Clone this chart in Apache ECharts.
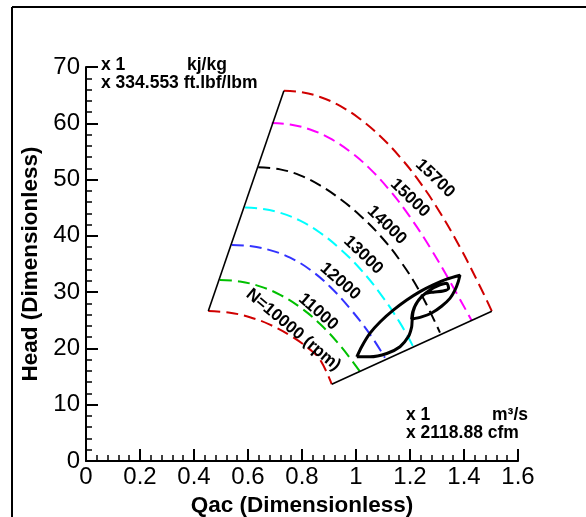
<!DOCTYPE html>
<html><head><meta charset="utf-8">
<script src="https://cdn.jsdelivr.net/npm/echarts@6/dist/echarts.min.js"></script>
<style>html,body{margin:0;padding:0;background:#fff}#c{width:586px;height:517px}</style>
</head><body><div id="c"></div>
<script>
// ---- data ----
const xMin = 0, xMax = 1.6, xStep = 0.2;
const yMin = 0, yMax = 70, yStep = 10;
const speedNames = ['N=10000 (rpm)', '11000', '12000', '13000', '14000', '15000', '15700'];
const n10000 = [[0.453,26.64],[0.533,26.35],[0.607,25.55],[0.681,24.22],[0.756,22.31],[0.830,19.79],[0.867,18.01],[0.910,13.65]];
const n11000 = [[0.496,32.15],[0.570,31.89],[0.644,31.03],[0.719,29.52],[0.793,27.31],[0.867,24.34],[0.941,20.52],[1.015,15.87]];
const n12000 = [[0.540,38.38],[0.607,38.19],[0.681,37.47],[0.756,36.12],[0.830,33.99],[0.904,30.96],[0.978,27.08],[1.052,22.49],[1.107,18.36]];
const n13000 = [[0.589,45.02],[0.644,44.86],[0.719,44.11],[0.793,42.69],[0.867,40.55],[0.941,37.70],[1.015,34.15],[1.089,29.79],[1.163,24.54],[1.212,20.30]];
const n14000 = [[0.638,52.20],[0.719,51.81],[0.793,50.75],[0.867,48.97],[0.941,46.57],[1.015,43.63],[1.089,40.07],[1.163,35.62],[1.237,30.02],[1.311,22.81]];
const n15000 = [[0.688,60.04],[0.756,59.79],[0.830,58.90],[0.904,57.30],[0.978,54.98],[1.052,51.90],[1.126,48.02],[1.200,43.36],[1.274,37.95],[1.348,31.90],[1.429,24.90]];
const n15700 = [[0.733,65.78],[0.793,65.57],[0.867,64.68],[0.941,63.08],[1.015,60.77],[1.089,57.74],[1.163,54.00],[1.237,49.50],[1.311,44.16],[1.385,37.99],[1.459,31.05],[1.503,26.62]];
const surgeLine = [[0.453,26.64],[0.733,65.78]];
const chokeLine = [[0.910,13.65],[1.503,26.62]];
const opLoop = [[1.003,18.5],[1.021,20.3],[1.052,22.7],[1.089,24.7],[1.138,26.8],[1.188,28.6],[1.237,30.1],[1.286,31.3],[1.336,32.3],[1.385,33.0],[1.379,31.9],[1.367,30.4],[1.348,28.9],[1.317,27.5],[1.280,26.3],[1.243,25.6],[1.206,25.2],[1.210,26.5],[1.222,27.9],[1.243,29.2],[1.274,30.4],[1.311,31.3],[1.336,31.6],[1.343,30.7],[1.323,30.2],[1.286,30.0],[1.256,29.7],[1.228,28.3],[1.212,26.6],[1.208,25.0],[1.206,23.8],[1.194,22.1],[1.163,20.3],[1.114,19.1],[1.052,18.5],[1.003,18.5]];
// label anchor positions (data coords) and angles (deg)
const labelAt = [[0.768,23.3],[0.860,26.5],[0.941,31.9],[1.027,36.6],[1.114,41.9],[1.200,46.7],[1.293,50.2]];
const labelAngle = [40, 41, 41, 44, 44, 44, 44];

// ---- chart ----
const speedData = [n10000, n11000, n12000, n13000, n14000, n15000, n15700];
const speedColors = ['#d00000', '#00c000', '#3333ff', '#00ffff', '#000000', '#ff00ff', '#d00000'];
const FF = '"Liberation Sans", Arial, Helvetica, sans-serif';

const chart = echarts.init(document.getElementById('c'), null, {renderer: 'canvas'});
const series = speedData.map((d, i) => ({
  type: 'line', data: d, showSymbol: false, smooth: 0.4, silent: true,
  lineStyle: {color: speedColors[i], width: 2, type: [12, 6]}, z: 2
}));
series.push({type: 'line', data: surgeLine, showSymbol: false, silent: true, lineStyle: {color: '#000', width: 1.6}, z: 3});
series.push({type: 'line', data: chokeLine, showSymbol: false, silent: true, lineStyle: {color: '#000', width: 1.6}, z: 3});
series.push({type: 'line', data: opLoop, showSymbol: false, smooth: 0.25, silent: true, lineStyle: {color: '#000', width: 3}, z: 4});

const axisCommon = {
  type: 'value',
  axisLine: {show: true, onZero: false, lineStyle: {color: '#000', width: 2}},
  axisTick: {show: true, inside: true, length: 12, lineStyle: {color: '#000', width: 2}},
  minorTick: {show: true, splitNumber: 5, length: 6, lineStyle: {color: '#000', width: 1.5}},
  splitLine: {show: false},
  axisLabel: {color: '#000', fontSize: 24, fontFamily: FF, margin: 6},
  nameTextStyle: {color: '#000', fontSize: 22.5, fontWeight: 'bold', fontFamily: FF}
};

chart.setOption({
  animation: false,
  backgroundColor: '#fff',
  grid: {left: 86, right: 68, top: 67, bottom: 56, containLabel: false, outerBoundsMode: 'none'},
  xAxis: Object.assign({}, axisCommon, {min: xMin, max: xMax, interval: xStep,
    name: 'Qac (Dimensionless)', nameLocation: 'middle', nameGap: 33,
    axisLabel: Object.assign({}, axisCommon.axisLabel, {margin: 4})}),
  yAxis: Object.assign({}, axisCommon, {min: yMin, max: yMax, interval: yStep,
    name: 'Head (Dimensionless)', nameLocation: 'middle', nameGap: 39}),
  series: series
});

const g = [];
// frame lines
g.push({type: 'line', shape: {x1: 12, y1: 7, x2: 586, y2: 7}, style: {stroke: '#000', lineWidth: 2}, silent: true});
g.push({type: 'line', shape: {x1: 12, y1: 7, x2: 12, y2: 517}, style: {stroke: '#000', lineWidth: 2}, silent: true});
// speed labels
labelAt.forEach((p, i) => {
  const px = chart.convertToPixel({gridIndex: 0}, p);
  g.push({type: 'text', x: px[0], y: px[1], rotation: -labelAngle[i] * Math.PI / 180, silent: true, z: 10,
    style: {text: speedNames[i], fill: '#000', font: 'bold 17px ' + FF, align: 'center', verticalAlign: 'middle'}});
});
// unit annotations
const unitFont = 'bold 17.5px ' + FF;
g.push({type: 'text', x: 101, y: 65, style: {text: 'x 1', font: unitFont, fill: '#000', verticalAlign: 'middle'}});
g.push({type: 'text', x: 187, y: 65, style: {text: 'kj/kg', font: unitFont, fill: '#000', verticalAlign: 'middle'}});
g.push({type: 'text', x: 101, y: 83, style: {text: 'x 334.553 ft.lbf/lbm', font: unitFont, fill: '#000', verticalAlign: 'middle'}});
g.push({type: 'text', x: 406, y: 415, style: {text: 'x 1', font: unitFont, fill: '#000', verticalAlign: 'middle'}});
g.push({type: 'text', x: 492, y: 415, style: {text: 'm³/s', font: unitFont, fill: '#000', verticalAlign: 'middle'}});
g.push({type: 'text', x: 406, y: 433, style: {text: 'x 2118.88 cfm', font: unitFont, fill: '#000', verticalAlign: 'middle'}});
chart.setOption({graphic: g});
</script></body></html>
